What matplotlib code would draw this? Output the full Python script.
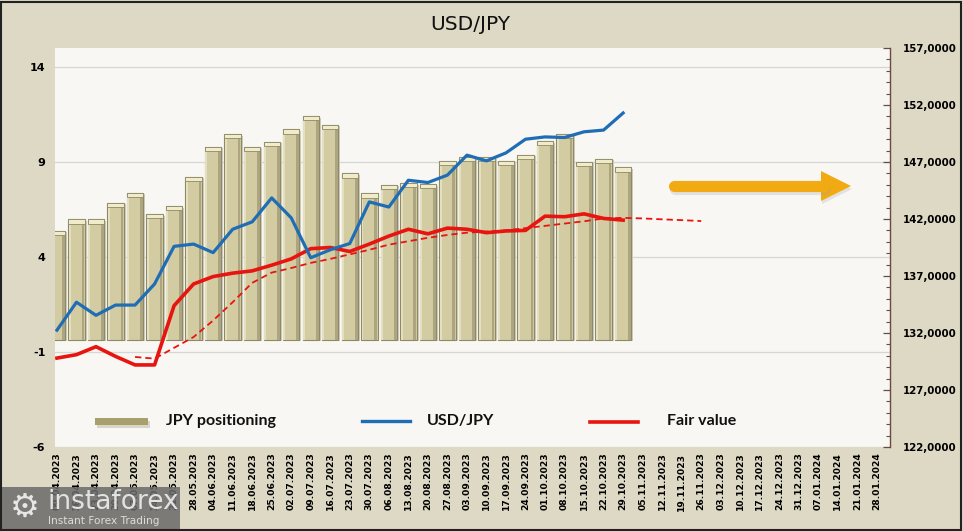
import numpy as np
import matplotlib
matplotlib.use("Agg")
import matplotlib.pyplot as plt
from matplotlib.patches import Rectangle, Polygon
from matplotlib.lines import Line2D
from matplotlib.ticker import MultipleLocator

plt.rcParams["axes.unicode_minus"] = False

# ---------------- data ----------------
dates = ["09.04.2023", "16.04.2023", "23.04.2023", "30.04.2023", "07.05.2023", "14.05.2023",
         "21.05.2023", "28.05.2023", "04.06.2023", "11.06.2023", "18.06.2023", "25.06.2023",
         "02.07.2023", "09.07.2023", "16.07.2023", "23.07.2023", "30.07.2023", "06.08.2023",
         "13.08.2023", "20.08.2023", "27.08.2023", "03.09.2023", "10.09.2023", "17.09.2023",
         "24.09.2023", "01.10.2023", "08.10.2023", "15.10.2023", "22.10.2023", "29.10.2023",
         "05.11.2023", "12.11.2023", "19.11.2023", "26.11.2023", "03.12.2023", "10.12.2023",
         "17.12.2023", "24.12.2023", "31.12.2023", "07.01.2024", "14.01.2024", "21.01.2024",
         "28.01.2024"]

jpy_positioning = [5.37, 5.98, 5.98, 6.86, 7.39, 6.25, 6.68, 8.23, 9.80, 10.46,
                   9.80, 10.07, 10.72, 11.42, 10.95, 8.40, 7.35, 7.81, 7.88, 7.84,
                   9.07, 9.28, 9.25, 9.07, 9.37, 10.10, 10.50, 9.02, 9.16, 8.72]

usdjpy = [132.25, 134.70, 133.55, 134.45, 134.45, 136.30, 139.60, 139.80, 139.05, 141.10,
          141.75, 143.85, 142.10, 138.60, 139.30, 139.85, 143.50, 143.05, 145.40, 145.20,
          145.85, 147.60, 147.10, 147.80, 149.00, 149.20, 149.15, 149.65, 149.80, 151.30]

fair_value = [129.80, 130.10, 130.80, 129.95, 129.20, 129.20, 134.40, 136.30, 136.95, 137.25,
              137.45, 137.95, 138.50, 139.40, 139.50, 139.15, 139.80, 140.50, 141.10, 140.70,
              141.20, 141.10, 140.80, 140.95, 141.00, 142.25, 142.20, 142.45, 142.05, 141.90]

fair_trend_start = 4
fair_trend = [129.90, 129.75, 130.70, 131.65, 133.10, 134.70, 136.40, 137.30, 137.70, 138.15,
              138.50, 138.90, 139.30, 139.75, 140.05, 140.35, 140.60, 140.80, 140.90, 141.00,
              141.20, 141.40, 141.60, 141.80, 142.05, 142.10, 142.05, 141.97, 141.90, 141.82]

left_ticks = [-6, -1, 4, 9, 14]
right_ticks = [122, 127, 132, 137, 142, 147, 152, 157]

# ---------------- style ----------------
W, H = 963, 531
BG = "#ddd9c4"
PLOT_BG = "#f8f7f3"
BLUE = "#1f6db4"
RED = "#e8140f"

fig = plt.figure(figsize=(W / 100, H / 100), dpi=100, facecolor=BG)

def px(x, y):
    """pixel (from top-left) -> inches (from bottom-left)"""
    return x / 100, (H - y) / 100

L, R, T, B = 55, 890, 48, 447
ax = fig.add_axes([L / W, (H - B) / H, (R - L) / W, (B - T) / H])
ax.set_facecolor(PLOT_BG)
ax.set_xlim(-0.10, 42.67)
ax.set_ylim(-6, 15)

x_all = np.arange(len(dates))
xb = x_all[:len(jpy_positioning)]
vals = np.array(jpy_positioning)

BW = 0.84
CAP = 0.22
BEV = 0.35
# shadow
ax.bar(xb + 0.10, vals + BEV, width=BW, bottom=-BEV - 0.08, color="#cfccbd", zorder=1.5, lw=0)
# body
ax.bar(xb, vals + BEV, width=BW, bottom=-BEV, color="#d3cca3", edgecolor="#8d8866",
       lw=0.8, zorder=2)
# side shading
ax.bar(xb + BW / 2 - 0.09, vals + BEV - CAP, width=0.14, bottom=-BEV, color="#aca580",
       lw=0, zorder=2.1)
ax.bar(xb - BW / 2 + 0.07, vals + BEV - CAP, width=0.10, bottom=-BEV, color="#e4dfbf",
       lw=0, zorder=2.1)
# top bevel
ax.bar(xb, CAP, width=BW, bottom=vals - CAP, color="#f0ebc9", edgecolor="#8d8866",
       lw=0.6, zorder=2.2)

ax.set_yticks(left_ticks)
ax.yaxis.grid(True, color="#d6d6d2", lw=0.9)
ax.set_axisbelow(True)
ax.tick_params(axis="y", length=0, pad=7, labelsize=8)
for t in ax.get_yticklabels():
    t.set_fontweight("bold")

ax.set_xticks(x_all)
ax.set_xticklabels(dates, rotation=90, fontsize=6.6, fontweight="bold", va="top")
ax.tick_params(axis="x", length=0, pad=4)
for s in ax.spines.values():
    s.set_visible(False)

# ---------------- right axis lines ----------------
ax2 = ax.twinx()
ax2.set_ylim(122, 157)
ax2.set_yticks(right_ticks)
ax2.set_yticklabels([f"{v:.4f}".replace(".", ",") for v in right_ticks],
                    fontsize=7.4, fontweight="bold")
ax2.yaxis.set_minor_locator(MultipleLocator(1))
ax2.tick_params(axis="y", which="major", direction="in", length=5, width=0.9,
                color="#6b4a40", pad=9)
ax2.tick_params(axis="y", which="minor", direction="in", length=3, width=0.8,
                color="#6b4a40")
for k, s in ax2.spines.items():
    s.set_visible(k == "right")
ax2.spines["right"].set_color("#6b4a40")
ax2.spines["right"].set_linewidth(1.0)

ax2.plot(xb, usdjpy, color=BLUE, lw=2.3, solid_joinstyle="round", zorder=5)
ax2.plot(xb, fair_value, color=RED, lw=2.6, solid_joinstyle="round", zorder=4)
xt = np.arange(fair_trend_start, fair_trend_start + len(fair_trend))
ax2.plot(xt, fair_trend, color=RED, lw=1.3, ls=(0, (3.5, 2.2)), zorder=4)

# ---------------- title ----------------
fig.text(470 / W, 1 - 24 / H, "USD/JPY", ha="center", va="center", fontsize=14.5,
         color="#111111")

# ---------------- legend (drawn by hand) ----------------
tr = fig.dpi_scale_trans
fig.add_artist(Rectangle(px(97, 428), 0.53, 0.07, transform=tr, color="#9f9a80", alpha=0.35, lw=0))
fig.add_artist(Rectangle(px(95, 425), 0.53, 0.075, transform=tr, color="#a8a06c", lw=0))
fig.add_artist(Line2D([3.62, 4.10], [(H - 421) / 100] * 2, transform=tr, color=BLUE, lw=2.4))
fig.add_artist(Line2D([5.90, 6.38], [(H - 422) / 100] * 2, transform=tr, color=RED, lw=2.6))
for xx, txt in [(166, "JPY positioning"), (427, "USD/JPY"), (667, "Fair value")]:
    fig.text(xx / W, 1 - 421 / H, txt, ha="left", va="center", fontsize=11.5,
             fontweight="bold", family="Lato", color="#111111")

# ---------------- orange arrow ----------------
ORANGE = "#f2aa12"
for dx, dy, col, a in [(1, 3, "#a0a0a0", 0.25), (0, 0, ORANGE, 1.0)]:
    fig.add_artist(Line2D([(674 + dx) / 100, (824 + dx) / 100],
                          [(H - 186 - dy) / 100] * 2, transform=tr, color=col, alpha=a,
                          lw=8.0, solid_capstyle="round"))
    fig.add_artist(Polygon([px(821 + dx, 171 + dy), px(851 + dx, 186 + dy), px(821 + dx, 201 + dy)],
                           closed=True, transform=tr, color=col, alpha=a, lw=0))

# ---------------- watermark ----------------
fig.add_artist(Rectangle(px(0, 531), 1.80, 0.44, transform=tr, color="#6a6a6a", alpha=0.85, lw=0))
fig.text(25 / W, 1 - 507 / H, "\u2699", ha="center", va="center", fontsize=24,
         color="#e6e6e6", family="DejaVu Sans")
fig.text(47 / W, 1 - 502 / H, "instaforex", ha="left", va="center", fontsize=19,
         color="#e2e2e2", family="DejaVu Sans")
fig.text(48 / W, 1 - 521 / H, "Instant Forex Trading", ha="left", va="center", fontsize=7.6,
         color="#dcdcdc", family="DejaVu Sans")

# ---------------- border ----------------
fig.add_artist(Rectangle((0.001, 0.002), 0.997, 0.995, transform=fig.transFigure,
                         fill=False, ec="#222222", lw=1.5))

fig.savefig("out.png", dpi=100, facecolor=BG)
